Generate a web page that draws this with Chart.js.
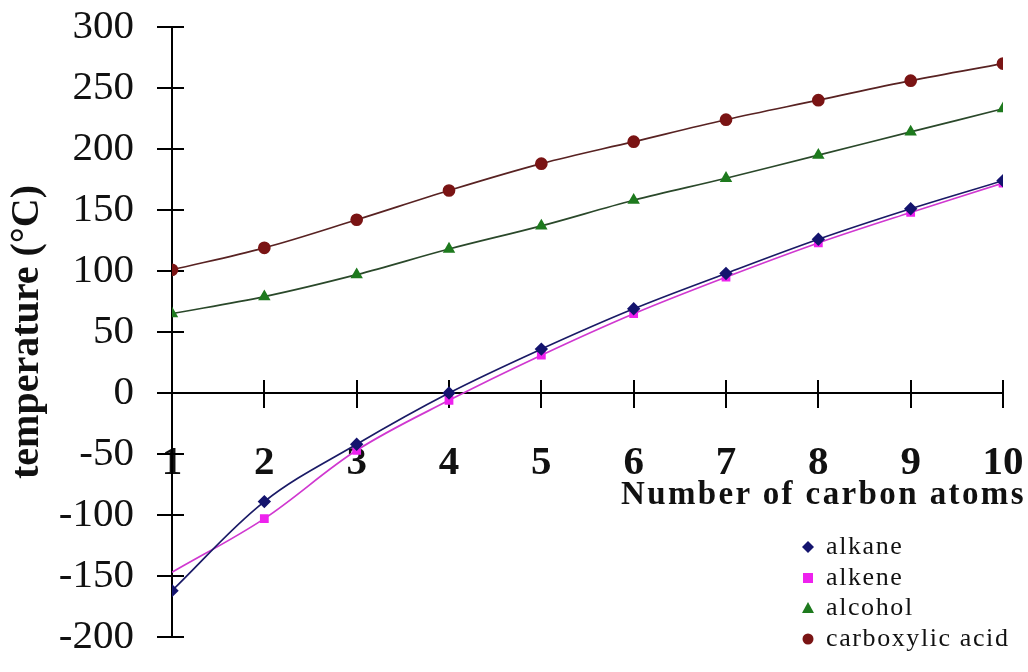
<!DOCTYPE html>
<html>
<head>
<meta charset="utf-8">
<script src="https://cdn.jsdelivr.net/npm/chart.js@4.4.1/dist/chart.umd.min.js"></script>
<style>
    body { margin: 0; background: #fff; }
    #wrap { position: relative; width: 1028px; height: 672px; }
    #xTitle {
        position: absolute; right: 2px; top: 475px;
        font: bold 33px 'Liberation Serif', 'Times New Roman', serif; color: #111; letter-spacing: 2.4px;
    }
    #legend {
        position: absolute; left: 800px; top: 531px;
        font: 26px 'Liberation Serif', 'Times New Roman', serif; color: #111; letter-spacing: 1.6px;
    }
    #legend .item { height: 30.5px; line-height: 30px; white-space: nowrap; }
    #legend svg { width: 16px; height: 16px; vertical-align: -1px; margin-right: 10px; }
</style>
</head>
<body>
<div id="wrap">
    <canvas id="chart" width="1028" height="672"></canvas>
    <div id="xTitle">Number of carbon atoms</div>
    <div id="legend"></div>
</div>
<script>
const carbons = [1, 2, 3, 4, 5, 6, 7, 8, 9, 10];
const yTicks = [-200, -150, -100, -50, 0, 50, 100, 150, 200, 250, 300];

const alkane = [-162, -89, -42, 0, 36, 69, 98, 126, 151, 174];
// the alkene curve starts at x=1 without a marker
const alkene = [-147, -103, -47, -6, 31, 65, 95, 123, 148, 172];
const alcohol = [65, 79, 97, 118, 137, 158, 176, 195, 214, 233];
const acid = [101, 119, 142, 166, 188, 206, 224, 240, 256, 270];

const seriesNames = ['alkane', 'alkene', 'alcohol', 'carboxylic acid'];
const markerColors = ['#14146e', '#ee22ee', '#1e7a1e', '#7a1414'];
const lineColors = ['#1a1a66', '#d038d0', '#2a482a', '#582222'];
const markerStyles = ['rectRot', 'rect', 'triangle', 'circle'];

const FONT = "'Liberation Serif', 'Times New Roman', serif";

function toPoints(values) {
    return values.map((v, i) => ({ x: carbons[i], y: v }));
}

const seriesValues = [alkane, alkene, alcohol, acid];
const datasets = seriesValues.map((vals, i) => ({
    label: seriesNames[i],
    data: toPoints(vals),
    borderColor: lineColors[i],
    backgroundColor: markerColors[i],
    pointBackgroundColor: markerColors[i],
    pointBorderColor: markerColors[i],
    pointStyle: markerStyles[i],
    pointRadius: i === 1 ? vals.map((_, k) => k === 0 ? 0 : 5) : 5.5,
    borderWidth: 1.7,
    tension: 0.35,
    fill: false,
}));

// tick marks that cross both axes
const crossTicks = {
    id: 'crossTicks',
    beforeDatasetsDraw(chart) {
        const { ctx, scales: { x, y } } = chart;
        const x0 = x.getPixelForValue(carbons[0]);
        const y0 = y.getPixelForValue(0);
        ctx.save();
        ctx.strokeStyle = '#000';
        ctx.lineWidth = 2;
        ctx.beginPath();
        for (const t of yTicks) {
            const py = Math.round(y.getPixelForValue(t));
            ctx.moveTo(x0 - 15, py);
            ctx.lineTo(x0 + 12, py);
        }
        for (const c of carbons.slice(1)) {
            const px = Math.round(x.getPixelForValue(c));
            ctx.moveTo(px, y0 - 13);
            ctx.lineTo(px, y0 + 15);
        }
        ctx.stroke();
        ctx.restore();
    }
};

const chart = new Chart(document.getElementById('chart'), {
    type: 'line',
    data: { datasets },
    plugins: [crossTicks],
    options: {
        responsive: false,
        animation: false,
        layout: { padding: { top: 27, bottom: 35, left: 0, right: 25 } },
        plugins: {
            legend: { display: false },
            tooltip: { enabled: false },
        },
        scales: {
            x: {
                type: 'linear',
                position: { y: 0 },
                min: 1,
                max: 10,
                afterFit: (s) => { s.height = 0; s.paddingLeft = 0; s.paddingRight = 0; },
                grid: { display: false },
                border: { display: true, color: '#000', width: 2 },
                ticks: {
                    stepSize: 1,
                    padding: 38,
                    color: '#111',
                    font: { family: FONT, size: 41, weight: 'bold' },
                },
            },
            y: {
                min: -200,
                max: 300,
                afterFit: (s) => { s.width = 172; s.paddingTop = 0; s.paddingBottom = 0; },
                afterBuildTicks: (s) => { s.ticks = yTicks.map(v => ({ value: v })); },
                grid: { display: false },
                border: { display: true, color: '#000', width: 2 },
                ticks: {
                    padding: 30,
                    color: '#111',
                    font: { family: FONT, size: 41 },
                },
                title: {
                    display: true,
                    text: 'temperature (°C)',
                    color: '#111',
                    padding: { top: 4, bottom: 0 },
                    font: { family: FONT, size: 40, weight: 'bold' },
                },
            },
        },
    },
});

// legend built from the datasets
function markerSvg(style, color) {
    let shape = '';
    if (style === 'rectRot') shape = `<polygon points="8,2 14,8 8,14 2,8" fill="${color}"/>`;
    else if (style === 'rect') shape = `<rect x="3" y="3" width="10" height="10" fill="${color}"/>`;
    else if (style === 'triangle') shape = `<polygon points="8,2 14,13 2,13" fill="${color}"/>`;
    else shape = `<circle cx="8" cy="8" r="5.5" fill="${color}"/>`;
    return `<svg viewBox="0 0 16 16">${shape}</svg>`;
}
const legendEl = document.getElementById('legend');
chart.data.datasets.forEach(ds => {
    const div = document.createElement('div');
    div.className = 'item';
    div.innerHTML = markerSvg(ds.pointStyle, ds.pointBackgroundColor) + ds.label;
    legendEl.appendChild(div);
});
</script>
</body>
</html>
